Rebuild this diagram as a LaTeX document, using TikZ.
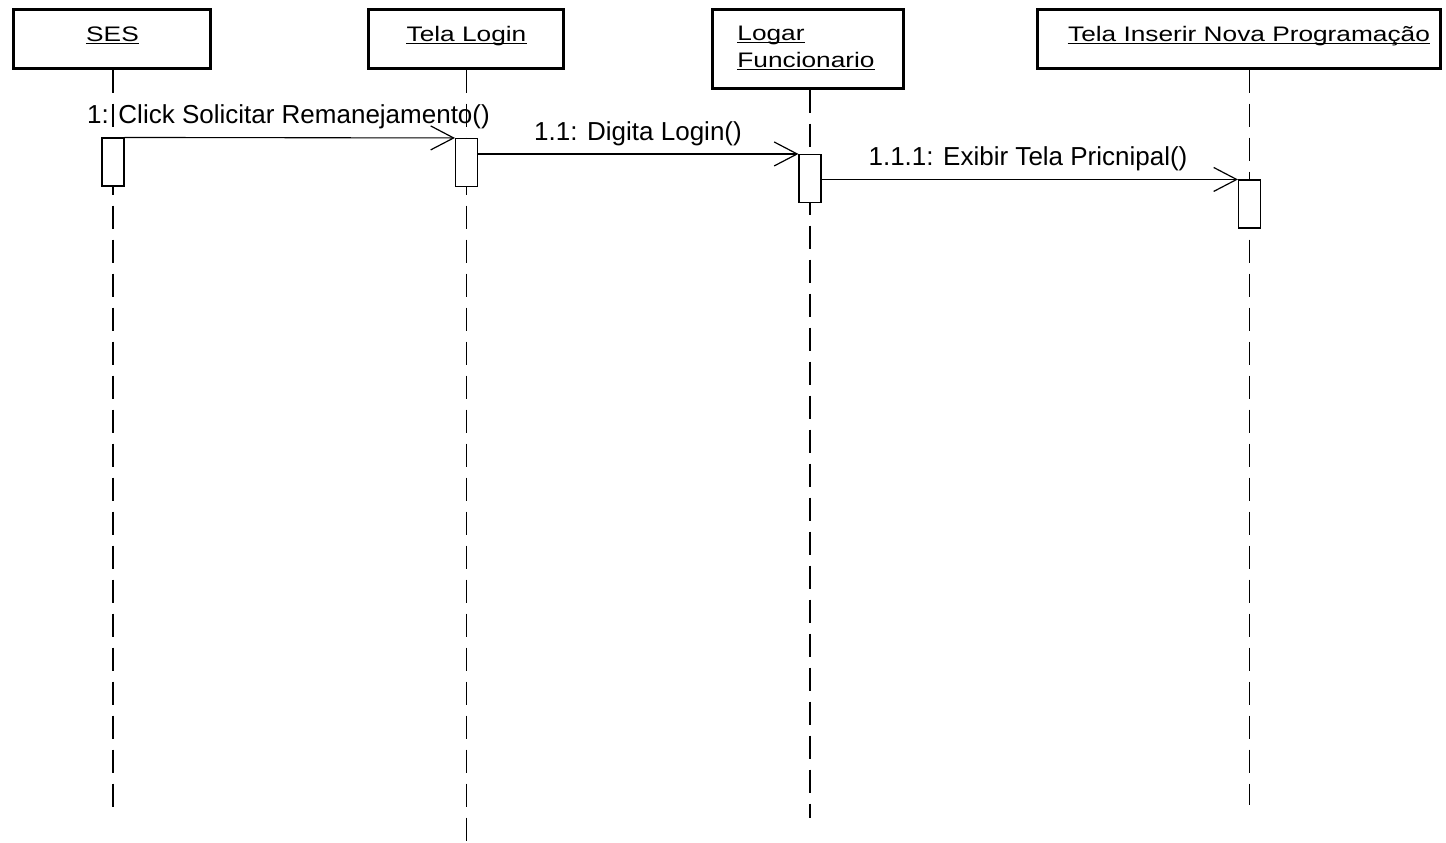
\documentclass[tikz,border=0pt]{standalone}
\usepackage{fontspec}
\setmainfont{Liberation Sans}
\newfontfamily\boxfont{Liberation Sans}[FakeStretch=1.25]
\usetikzlibrary{arrows.meta,backgrounds}

\begin{document}
\begin{tikzpicture}[x=0.5pt,y=-0.5pt,
  objbox/.style={draw, line width=1.5pt, inner sep=0pt},
  objname/.style={inner sep=0pt, font=\boxfont\fontsize{10.5}{12}\selectfont},
  actbox/.style={draw, fill=white, line width=0.55pt, minimum width=11pt, minimum height=24pt, inner sep=0pt},
  life/.style={line width=0.6pt, dash pattern=on 11.5pt off 5.5pt},
  msg/.style={line width=0.55pt, -{Straight Barb[length=11.5pt, width=12pt, line width=0.6pt]}},
  msglabel/.style={inner sep=0pt, font=\fontsize{13}{15}\selectfont},
  uline/.style={line width=0.55pt}]

\useasboundingbox (0,0) rectangle (1446,842);

% object boxes
\node[objbox, minimum width=98.5pt, minimum height=29.5pt] (ses)   at (111.5,38.5) {};
\node[objbox, minimum width=97.5pt, minimum height=29.5pt] (login) at (465.5,38.5) {};
\node[objbox, minimum width=95.5pt, minimum height=39.5pt] (logar) at (807.5,48.5) {};
\node[objbox, minimum width=201.5pt, minimum height=29.5pt] (tela) at (1238.5,38.5) {};

% object names, underlined
\node[objname, anchor=base] (sesT) at (112.5,41) {SES};
\node[objname, anchor=base] (loginT) at (466.5,41) {Tela Login};
\node[objname, anchor=base west] (logarT1) at (737,40) {Logar\ };
\node[objname, anchor=base west] (logarT2) at (737,67) {Funcionario};
\node[objname, anchor=base] (telaT) at (1249,41) {Tela Inserir Nova Programação};
\foreach \t in {sesT,loginT,logarT1,logarT2,telaT}
  \draw[uline] ([yshift=-1.25pt]\t.base west) -- ([yshift=-1.25pt]\t.base east);

% activation bars
\node[actbox] (sesA)   at (113,162) {};
\node[actbox] (loginA) at (466.5,162.5) {};
\node[actbox] (logarA) at (810,178.5) {};
\node[actbox] (telaA)  at (1249.5,204) {};

% lifeline ends
\coordinate (sesEnd)   at (113,810);
\coordinate (loginEnd) at (466.5,842);
\coordinate (logarEnd) at (810,818);
\coordinate (telaEnd)  at (1249.5,805);

% white page and dashed lifelines behind everything else
\begin{pgfonlayer}{background}
  \fill[white] (0,0) rectangle (1446,842);
  \draw[life] (sesA |- ses.south) -- (sesEnd);
  \draw[life] (loginA |- login.south) -- (loginEnd);
  \draw[life] (logarA |- logar.south) -- (logarEnd);
  \draw[life] (telaA |- tela.south) -- (telaEnd);
\end{pgfonlayer}

% messages
\draw[msg] (sesA.north east) -- (loginA.north west);
\draw[msg] (loginA.east |- logarA.north) -- (logarA.north west);
\draw[msg] (logarA.east |- telaA.north) -- (telaA.north west);

\node[msglabel, anchor=base] (m1) at (288.5,123) {1: Click Solicitar Remanejamento()};
\node[msglabel, anchor=base] (m2) at (638,140) {1.1: Digita Login()};
\node[msglabel, anchor=base] (m3) at (1028,165) {1.1.1: Exibir Tela Pricnipal()};

\end{tikzpicture}
\end{document}
